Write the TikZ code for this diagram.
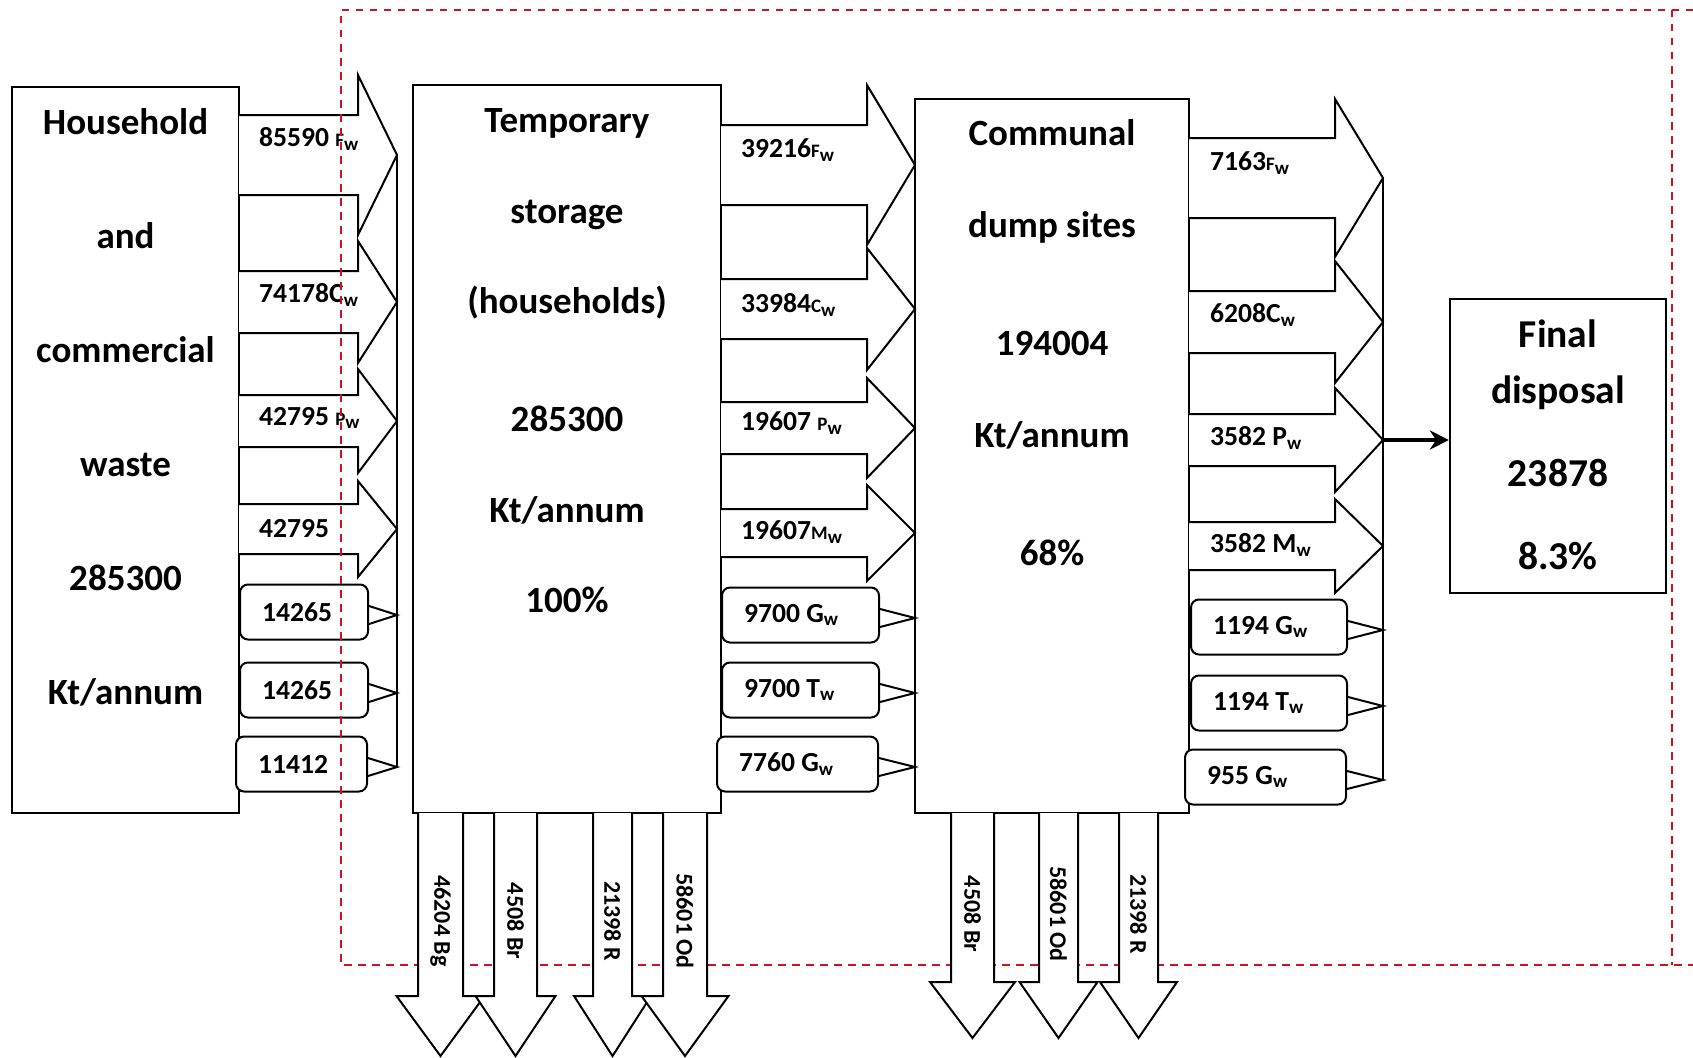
\documentclass[tikz,border=0pt]{standalone}
\usepackage{fontspec}
\setmainfont{Carlito}
\usetikzlibrary{arrows.meta}

\definecolor{framered}{RGB}{204,20,30}
\newcommand{\wsub}{\raisebox{-3.5pt}{\fontsize{19}{19}\selectfont w}}
\newcommand{\smcap}[1]{{\fontsize{19}{19}\selectfont #1}}

\begin{document}
\begin{tikzpicture}[x=1pt,y=-1pt,
  box/.style={draw,line width=2.2pt,inner sep=0pt},
  big/.style={font=\bfseries\fontsize{37}{#1}\selectfont,align=center,inner sep=0pt},
  flow/.style={draw,fill=white,line width=2pt},
  lab/.style={font=\bfseries\fontsize{27.6}{30}\selectfont,inner sep=0pt,anchor=west},
  callbox/.style={draw,fill=white,line width=2pt,rounded corners=8pt,inner sep=0pt,
    minimum height=55pt,anchor=west},
  dlab/.style={font=\bfseries\fontsize{24}{26}\selectfont,inner sep=0pt,rotate=-90},
  frame/.style={draw=framered,line width=2pt,dash pattern=on 7.5pt off 6.5pt}]
\useasboundingbox (0,0) rectangle (1693,1057);

% the four stages
\node[box,minimum width=227pt,minimum height=726pt] (hh) at (125.5,450) {};
\node[box,minimum width=308pt,minimum height=728pt] (ts) at (567,449) {};
\node[box,minimum width=274pt,minimum height=714pt] (cd) at (1052,456) {};
\node[box,minimum width=216pt,minimum height=294pt] (fd) at (1558,446) {};

\node[big=114] (hh-text) at (125.5,407) {Household\\and\\commercial\\waste\\285300\\Kt/annum};
\node[big=90.5] (ts-text) at (567,361) {Temporary\\storage\\(households)\\[27.5pt]285300\\Kt/annum\\100\%};
\node[big=92] (cd-text) at (1052,342.5) {Communal\\dump sites\\[26pt]194004\\Kt/annum\\[26pt]68\%};
\node[big=56,font=\bfseries\fontsize{39.5}{56}\selectfont] (fd-text) at (1558,445) {Final\\disposal\\[27pt]23878\\[27pt]8.3\%};

% flows out of household and commercial waste
\foreach \cy/\sw/\hw/\ly/\txt [count=\i] in {155/40/80/139/{85590 \smcap{F}\wsub},
    302/31/61/295/{74178C\wsub}, 421/26/52/418/{42795 \smcap{P}\wsub}, 529/25/48/529/{42795}} {
  \path[flow] (239,\cy-\sw) -- (358,\cy-\sw) -- (358,\cy-\hw) -- (397,\cy) -- (358,\cy+\hw) -- (358,\cy+\sw) -- (239,\cy+\sw);
  \coordinate (hh-t\i) at (397,\cy);
  \node[lab] (hh-a\i) at (259,\ly) {\txt};
}
\foreach \ty/\bx/\bw/\txt [count=\i] in {615/239/128/14265, 693/239/128/14265, 767/235/131/11412} {
  \node[callbox,minimum width=\bw*1pt] (hh-c\i) at (\bx,\ty-3) {};
  \node[lab] (hh-l\i) at ([xshift=23pt]hh-c\i.west) {\txt};
  \coordinate (hh-p\i) at (397,\ty);
  \draw[line width=2pt] ([yshift=6pt]hh-c\i.east) -- (hh-p\i) -- ([yshift=-12pt]hh-c\i.east);
}
\draw[line width=2pt] (hh-t1) -- (hh-p3);

% flows out of temporary storage
\foreach \cy/\sw/\hw/\ly/\txt [count=\i] in {165/40/80/150/{39216\smcap{F}\wsub},
    309/30/61/305/{33984\smcap{C}\wsub}, 428/26/50/423/{19607 \smcap{P}\wsub}, 533/24/48/532/{19607\smcap{M}\wsub}} {
  \path[flow] (721,\cy-\sw) -- (867,\cy-\sw) -- (867,\cy-\hw) -- (915,\cy) -- (867,\cy+\hw) -- (867,\cy+\sw) -- (721,\cy+\sw);
  \coordinate (ts-t\i) at (915,\cy);
  \node[lab] (ts-a\i) at (741,\ly) {\txt};
}
\foreach \ty/\bx/\bw/\txt [count=\i] in {618/721/157/{9700 G\wsub}, 693/721/157/{9700 T\wsub}, 767/716/161/{7760 G\wsub}} {
  \node[callbox,minimum width=\bw*1pt] (ts-c\i) at (\bx,\ty-3) {};
  \node[lab] (ts-l\i) at ([xshift=23pt]ts-c\i.west) {\txt};
  \coordinate (ts-p\i) at (915,\ty);
  \draw[line width=2pt] ([yshift=6pt]ts-c\i.east) -- (ts-p\i) -- ([yshift=-12pt]ts-c\i.east);
}

% flows out of communal dump sites
\foreach \cy/\sw/\hw/\ly/\txt [count=\i] in {178/40/79/163/{7163\smcap{F}\wsub},
    322/31/61/315/{6208C\wsub}, 440/26/52/438/{3582 P\wsub}, 546/24/47/545/{3582 M\wsub}} {
  \path[flow] (1189,\cy-\sw) -- (1335,\cy-\sw) -- (1335,\cy-\hw) -- (1383,\cy) -- (1335,\cy+\hw) -- (1335,\cy+\sw) -- (1189,\cy+\sw);
  \coordinate (cd-t\i) at (1383,\cy);
  \node[lab] (cd-a\i) at (1210,\ly) {\txt};
}
\foreach \ty/\bx/\bw/\txt [count=\i] in {630/1190/156/{1194 G\wsub}, 706/1190/156/{1194 T\wsub}, 780/1184/161/{955 G\wsub}} {
  \node[callbox,minimum width=\bw*1pt] (cd-c\i) at (\bx,\ty-3) {};
  \node[lab] (cd-l\i) at ([xshift=23pt]cd-c\i.west) {\txt};
  \coordinate (cd-p\i) at (1383,\ty);
  \draw[line width=2pt] ([yshift=6pt]cd-c\i.east) -- (cd-p\i) -- ([yshift=-12pt]cd-c\i.east);
}
\draw[line width=2pt] (cd-t1) -- (cd-p3);
\draw[line width=4pt,-{Stealth[length=19pt,width=19pt]}] (cd-t3) -- (fd.west |- cd-t3);

% system boundary
\draw[frame] (1693,10) -- (341,10) -- (341,965) -- (1693,965);
\draw[frame] (1672,10) -- (1672,965);

% flows leaving the system
\foreach \cx/\sw/\hw/\txt [count=\i] in {440.5/22.5/44/{46204 Bg}, 515.5/21.5/40/{4508 Br},
    612.5/19.5/38.5/{21398 R}, 685/22/43.5/{58601 Od}} {
  \path[flow] (\cx-\sw,813) -- (\cx-\sw,996) -- (\cx-\hw,996) -- (\cx,1056) -- (\cx+\hw,996) -- (\cx+\sw,996) -- (\cx+\sw,813);
  \node[dlab] (ts-d\i) at (\cx,921) {\txt};
}
\foreach \cx/\sw/\hw/\txt [count=\i] in {972.5/21.5/42.5/{4508 Br}, 1058.5/19.5/39/{58601 Od},
    1138.5/19.5/38.5/{21398 R}} {
  \path[flow] (\cx-\sw,813) -- (\cx-\sw,982) -- (\cx-\hw,982) -- (\cx,1038) -- (\cx+\hw,982) -- (\cx+\sw,982) -- (\cx+\sw,813);
  \node[dlab] (cd-d\i) at (\cx,914) {\txt};
}
\end{tikzpicture}
\end{document}
